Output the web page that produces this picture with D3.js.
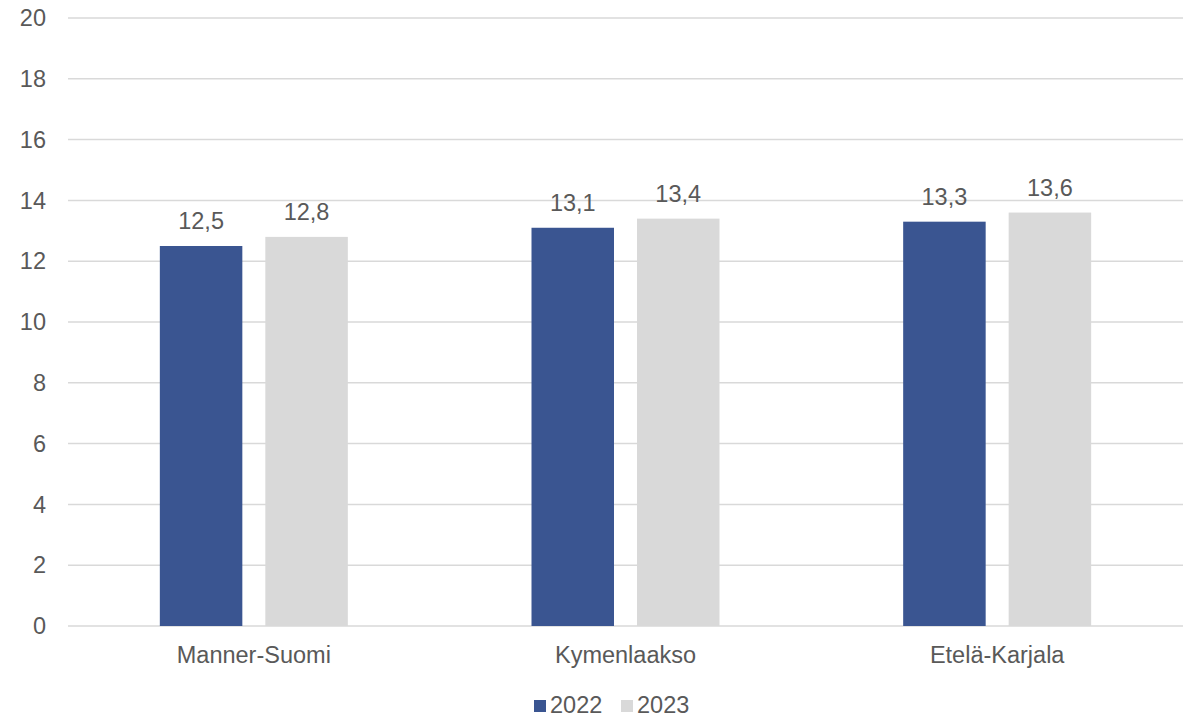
<!DOCTYPE html>
<html>
<head>
<meta charset="utf-8">
<script src="https://cdn.jsdelivr.net/npm/d3@7"></script>
<style>
  body { margin: 0; background: #fff; }
  text { font-family: "Liberation Sans", Arial, sans-serif; fill: #595959; }
</style>
</head>
<body>
<svg id="chart" width="1196" height="718"></svg>
<script>
const categories = ["Manner-Suomi", "Kymenlaakso", "Etelä-Karjala"];
const years = ["2022", "2023"];
const values2022 = [12.5, 13.1, 13.3];
const values2023 = [12.8, 13.4, 13.6];
const yTicks = [0, 2, 4, 6, 8, 10, 12, 14, 16, 18, 20];
const colors = ["#3a5591", "#d9d9d9"];

const series = [values2022, values2023];
const svg = d3.select("#chart");
const margin = {top: 18, right: 13, bottom: 92, left: 68};
const width = 1196, height = 718;
const fs = "23.5px";

const x0 = d3.scaleBand()
  .domain(categories)
  .range([margin.left, width - margin.right]);
const groupW = 188;
const x1 = d3.scaleBand()
  .domain(years)
  .range([0, groupW])
  .paddingInner(0.218);
const y = d3.scaleLinear()
  .domain([0, 20])
  .range([height - margin.bottom, margin.top]);

// gridlines
svg.append("g")
  .selectAll("line")
  .data(yTicks)
  .join("line")
    .attr("x1", margin.left)
    .attr("x2", width - margin.right)
    .attr("y1", d => y(d))
    .attr("y2", d => y(d))
    .attr("stroke", "#d9d9d9")
    .attr("stroke-width", 1.5);

// y labels
svg.append("g")
  .selectAll("text")
  .data(yTicks)
  .join("text")
    .attr("x", 46)
    .attr("y", d => y(d))
    .attr("dy", "0.35em")
    .attr("text-anchor", "end")
    .style("font-size", fs)
    .text(d => d);

const groups = svg.append("g")
  .selectAll("g")
  .data(categories)
  .join("g")
    .attr("transform", d => `translate(${x0(d) + x0.bandwidth() / 2 - groupW / 2},0)`);

groups.selectAll("rect")
  .data((d, i) => years.map((yr, j) => ({yr, v: series[j][i], j})))
  .join("rect")
    .attr("x", d => x1(d.yr))
    .attr("width", x1.bandwidth())
    .attr("y", d => y(d.v))
    .attr("height", d => y(0) - y(d.v))
    .attr("fill", d => colors[d.j]);

groups.selectAll("text.val")
  .data((d, i) => years.map((yr, j) => ({yr, v: series[j][i]})))
  .join("text")
    .attr("class", "val")
    .attr("x", d => x1(d.yr) + x1.bandwidth() / 2)
    .attr("y", d => y(d.v) - 17)
    .attr("text-anchor", "middle")
    .style("font-size", fs)
    .text(d => d3.format(".1f")(d.v).replace(".", ","));

// category labels
svg.append("g")
  .selectAll("text")
  .data(categories)
  .join("text")
    .attr("x", d => x0(d) + x0.bandwidth() / 2)
    .attr("y", 663)
    .attr("text-anchor", "middle")
    .style("font-size", fs)
    .text(d => d);

// legend
const legend = svg.append("g")
  .selectAll("g")
  .data(years)
  .join("g")
    .attr("transform", (d, i) => `translate(${534 + i * 87},0)`);
legend.append("rect")
  .attr("x", 0).attr("y", 700)
  .attr("width", 12).attr("height", 12)
  .attr("fill", (d, i) => colors[i]);
legend.append("text")
  .attr("x", 16).attr("y", 713)
  .style("font-size", fs)
  .text(d => d);
</script>
</body>
</html>
